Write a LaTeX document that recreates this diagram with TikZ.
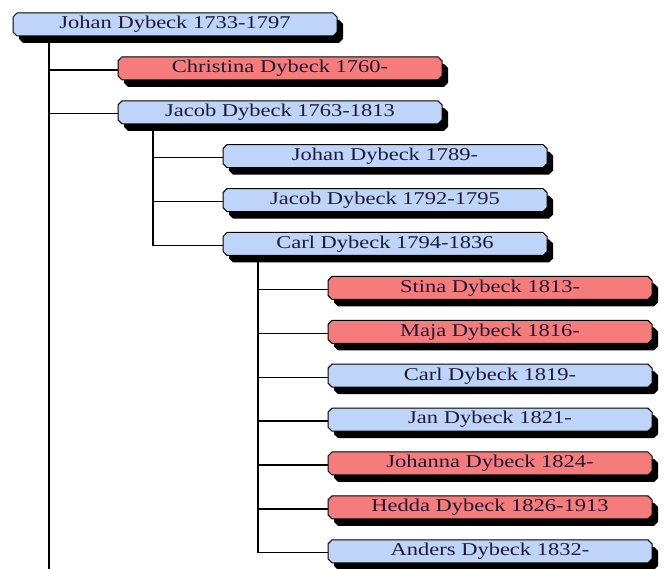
\documentclass[tikz,border=0pt]{standalone}
\usepackage{fontspec}
\setmainfont[FakeStretch=1.25]{Liberation Serif}
\usetikzlibrary{shapes.misc,shadows,backgrounds}
\definecolor{mblue}{RGB}{190,212,248}
\definecolor{fred}{RGB}{246,124,124}
\definecolor{txt}{RGB}{30,25,55}
\begin{document}
\begin{tikzpicture}[x=1pt,y=-1pt,
  person/.style={chamfered rectangle, chamfered rectangle xsep=2pt, chamfered rectangle ysep=2pt,
    draw=black, line width=1pt, minimum width=324pt, minimum height=23pt, inner sep=0pt,
    text=txt, font=\fontsize{18}{18}\selectfont,
    drop shadow={shadow xshift=6pt, shadow yshift=-7pt, fill=black, opacity=1}},
  male/.style={person, fill=mblue},
  female/.style={person, fill=fred},
  link/.style={line width=1.3pt, black}]
\useasboundingbox (0,0) rectangle (665,569);
\node[male]   (j0)  at (175,24.5)  {Johan Dybeck 1733-1797};
\node[female] (c1)  at (280,68.4)  {Christina Dybeck 1760-};
\node[male]   (j1)  at (280,112.3) {Jacob Dybeck 1763-1813};
\node[male]   (j2)  at (385,156.2) {Johan Dybeck 1789-};
\node[male]   (jb2) at (385,200.1) {Jacob Dybeck 1792-1795};
\node[male]   (c2)  at (385,244)   {Carl Dybeck 1794-1836};
\node[female] (s3)  at (490,287.9) {Stina Dybeck 1813-};
\node[female] (m3)  at (490,331.8) {Maja Dybeck 1816-};
\node[male]   (c3)  at (490,375.7) {Carl Dybeck 1819-};
\node[male]   (ja3) at (490,419.6) {Jan Dybeck 1821-};
\node[female] (jo3) at (490,463.5) {Johanna Dybeck 1824-};
\node[female] (h3)  at (490,507.4) {Hedda Dybeck 1826-1913};
\node[male]   (a3)  at (490,551.3) {Anders Dybeck 1832-};
\coordinate (t0) at ([xshift=-126pt]j0.south);
\coordinate (t1) at ([xshift=-127pt]j1.south);
\coordinate (t2) at ([xshift=-127pt]c2.south);
\coordinate (bot) at (0,569);
\begin{scope}[on background layer]
  \draw[link] (t0) -- (t0 |- bot);
  \draw[link] (t0) |- ([yshift=-1.5pt]c1.west);
  \draw[link] (t0) |- ([yshift=-1.5pt]j1.west);
  \draw[link] (t1) |- ([yshift=-1.5pt]j2.west);
  \draw[link] (t1) |- ([yshift=-1.5pt]jb2.west);
  \draw[link] (t1) |- ([yshift=-1.5pt]c2.west);
  \draw[link] (t2) |- ([yshift=-1.5pt]s3.west);
  \draw[link] (t2) |- ([yshift=-1.5pt]m3.west);
  \draw[link] (t2) |- ([yshift=-1.5pt]c3.west);
  \draw[link] (t2) |- ([yshift=-1.5pt]ja3.west);
  \draw[link] (t2) |- ([yshift=-1.5pt]jo3.west);
  \draw[link] (t2) |- ([yshift=-1.5pt]h3.west);
  \draw[link] (t2) |- ([yshift=-1.5pt]a3.west);
\end{scope}
\end{tikzpicture}
\end{document}
